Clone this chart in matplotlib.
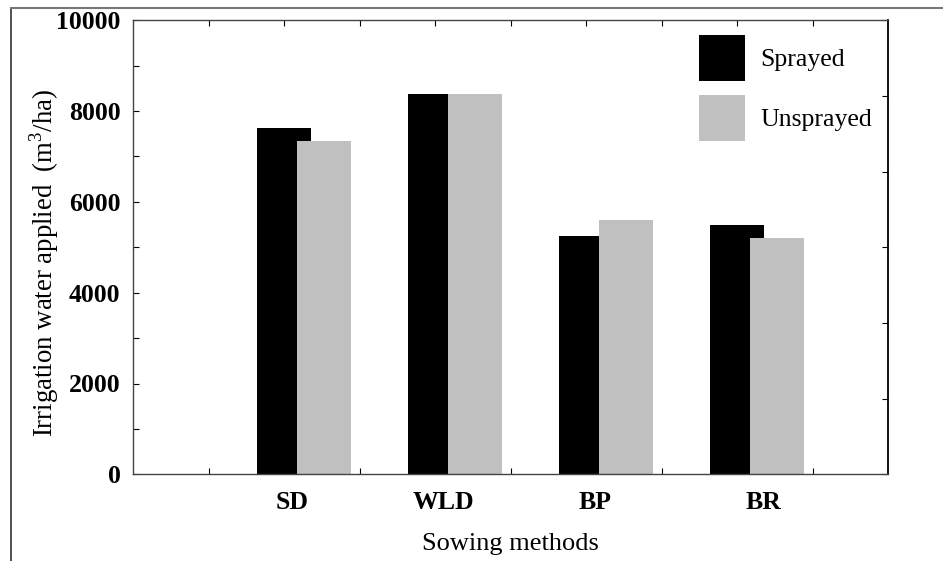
import numpy as np
import matplotlib
matplotlib.use("Agg")
import matplotlib.pyplot as plt
from matplotlib.lines import Line2D

plt.rcParams['font.family'] = ['Liberation Serif', 'DejaVu Serif']
plt.rcParams['mathtext.fontset'] = 'custom'
plt.rcParams['mathtext.rm'] = 'Liberation Serif'

methods = ['SD', 'WLD', 'BP', 'BR']
sprayed = [7620, 8385, 5250, 5490]
unsprayed = [7340, 8370, 5600, 5200]

pos = np.array([2, 4, 6, 8])
label_shift = [0.11, 0.11, 0.12, 0.35]

fig = plt.figure(figsize=(9.43, 5.61), dpi=100)
ax = fig.add_axes([133 / 943, 86.7 / 561, 755 / 943, 454 / 561])

ax.bar(pos - 0.358, sprayed, width=0.715, align='edge', color='black', label='Sprayed')
ax.bar(pos + 0.172, unsprayed, width=0.715, align='edge', color='#c0c0c0', label='Unsprayed')

ax.set_xlim(0, 10)
ax.set_ylim(0, 10000)

# bottom ticks: odd positions, labels placed as minor ticks
ax.set_xticks([1, 3, 5, 7, 9])
ax.set_xticklabels([])
ax.set_xticks(pos + np.array(label_shift), minor=True)
ax.set_xticklabels(methods, minor=True, fontsize=18.5, fontweight='bold')
ax.tick_params(axis='x', which='major', direction='in', length=4, width=0.8)
ax.tick_params(axis='x', which='minor', length=0, pad=12)

ax.set_yticks(np.arange(0, 10001, 2000))
ax.set_yticks(np.arange(1000, 10000, 2000), minor=True)
ax.set_yticklabels([str(v) for v in range(0, 10001, 2000)], fontsize=18.5, fontweight='bold')
ax.tick_params(axis='y', which='both', direction='in', length=4, width=0.8, pad=9)

top = ax.secondary_xaxis('top')
top.set_xticks(np.arange(1, 10))
top.set_xticklabels([])
top.tick_params(direction='in', length=4, width=0.8)
top.spines['top'].set_visible(False)

right = ax.secondary_yaxis('right')
right.set_yticks(np.linspace(0, 10000, 7))
right.set_yticklabels([])
right.tick_params(direction='in', length=4, width=0.8)
right.spines['right'].set_visible(False)

for s in ['left', 'bottom', 'top']:
    ax.spines[s].set_color('#444444')
    ax.spines[s].set_linewidth(1.0)
ax.spines['right'].set_color('black')
ax.spines['right'].set_linewidth(1.3)

ax.set_xlabel('Sowing methods', fontsize=19, labelpad=14)
ax.set_ylabel('Irrigation water applied  (m$^{3}$/ha)', fontsize=19.3)
ax.yaxis.set_label_coords((61 - 133) / 755, (474.3 - 263) / 454)

ax.legend(loc='upper left', bbox_to_anchor=((699 - 133) / 755, (474.3 - 35) / 454),
          frameon=False, fontsize=18.5, handlelength=1.78, handleheight=2.38,
          labelspacing=0.55, handletextpad=0.6, borderpad=0, borderaxespad=0)

# outer frame lines
fig.add_artist(Line2D([10.5 / 943, 10.5 / 943], [0, 1 - 8 / 561], color='#333333', lw=1.2))
fig.add_artist(Line2D([10.5 / 943, 1], [1 - 8 / 561, 1 - 8 / 561], color='#777777', lw=1.5))

fig.savefig('out.png', dpi=100)
